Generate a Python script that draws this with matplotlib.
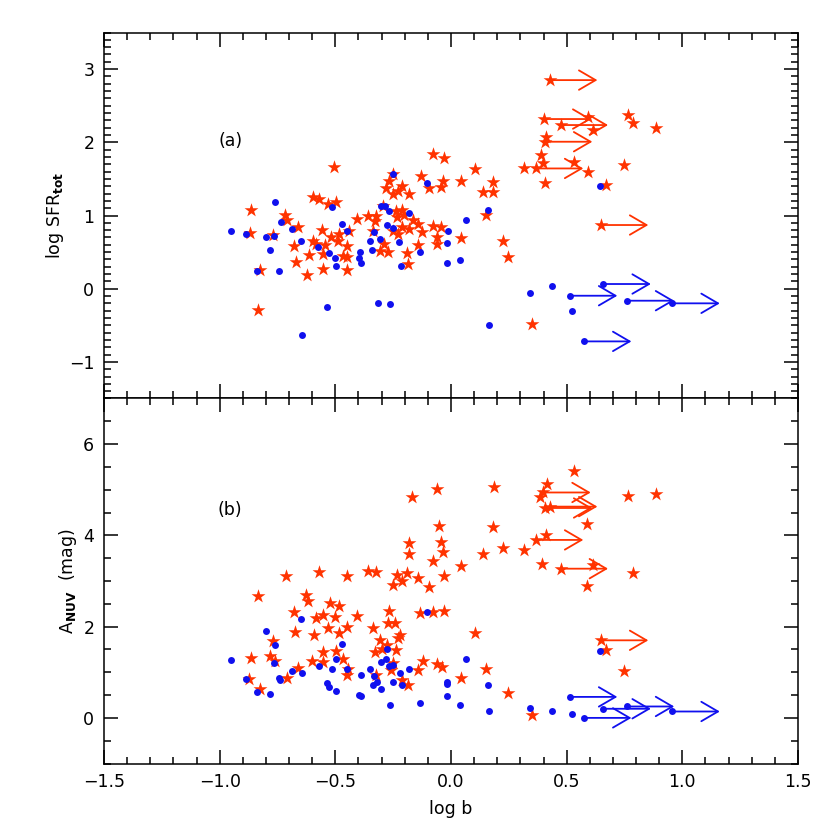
import matplotlib
matplotlib.use("Agg")
import matplotlib.pyplot as plt
from matplotlib.ticker import MultipleLocator, FuncFormatter

# ---------------- data: panel (a) log SFR_tot ----------------
a_star_x = [-0.504, -0.866, -0.869, -0.768, -0.833, -0.826, -0.718, -0.708, -0.660, -0.679,
            -0.671, -0.624, -0.612, -0.595, -0.572, -0.533, -0.497, -0.556, -0.595, -0.584,
            -0.545, -0.555, -0.555, -0.520, -0.483, -0.487, -0.451, -0.466, -0.451, -0.451,
            -0.440, -0.408, -0.357, -0.324, -0.329, -0.336, -0.295, -0.290, -0.307, -0.271,
            -0.252, -0.269, -0.281, -0.252, -0.230, -0.213, -0.180, -0.238, -0.213, -0.235,
            -0.203, -0.163, -0.141, -0.249, -0.228, -0.213, -0.180, -0.127, -0.141, -0.189,
            -0.185, -0.131, -0.094, -0.076, -0.029, -0.045, -0.033, -0.079, -0.045, -0.062,
            -0.059, 0.043, 0.042, 0.104, 0.137, 0.183, 0.183, 0.150, 0.226, 0.248,
            0.594, 0.615, 0.764, 0.788, 0.886, 0.411, 0.388, 0.396, 0.316, 0.532,
            0.591, 0.748, 0.406, 0.670, 0.349]
a_star_y = [1.667, 1.080, 0.765, 0.740, -0.287, 0.255, 1.010, 0.940, 0.847, 0.587,
            0.369, 0.187, 0.460, 1.247, 1.225, 1.157, 1.180, 0.806, 0.656, 0.610,
            0.597, 0.474, 0.269, 0.700, 0.747, 0.646, 0.587, 0.450, 0.437, 0.255,
            0.790, 0.952, 0.997, 0.997, 0.919, 0.790, 1.134, 0.610, 0.519, 0.496,
            1.567, 1.475, 1.376, 1.300, 1.339, 1.407, 1.290, 1.066, 1.075, 0.974,
            1.010, 0.938, 0.883, 0.790, 0.747, 0.837, 0.815, 0.769, 0.597, 0.483,
            0.337, 1.544, 1.376, 1.840, 1.780, 1.393, 1.475, 0.860, 0.837, 0.710,
            0.610, 1.475, 0.690, 1.635, 1.316, 1.452, 1.325, 1.007, 0.656, 0.428,
            2.340, 2.168, 2.373, 2.258, 2.190, 2.067, 1.827, 1.712, 1.643, 1.725,
            1.589, 1.690, 1.444, 1.417, -0.482]
a_star_lim_x = [0.428, 0.402, 0.474, 0.406, 0.367, 0.648]
a_star_lim_y = [2.850, 2.318, 2.236, 2.008, 1.643, 0.870]

a_dot_x = [-0.951, -0.888, -0.800, -0.765, -0.760, -0.736, -0.781, -0.837, -0.745, -0.686,
           -0.650, -0.645, -0.574, -0.537, -0.513, -0.527, -0.501, -0.498, -0.470, -0.450,
           -0.392, -0.398, -0.389, -0.350, -0.340, -0.333, -0.306, -0.317, -0.264, -0.303,
           -0.284, -0.268, -0.278, -0.249, -0.251, -0.224, -0.216, -0.183, -0.135, -0.104,
           -0.014, -0.016, -0.019, 0.038, 0.066, 0.161, 0.163, 0.644, 0.342, 0.438, 0.522]
a_dot_y = [0.788, 0.742, 0.710, 0.724, 1.184, 0.915, 0.533, 0.246, 0.246, 0.815,
           0.651, -0.633, 0.569, -0.246, 1.111, 0.487, 0.414, 0.314, 0.883, 0.788,
           0.505, 0.419, 0.346, 0.651, 0.528, 0.769, 0.678, -0.191, -0.205, 1.129,
           1.129, 1.056, 0.870, 0.824, 1.567, 0.642, 0.310, 1.038, 0.505, 1.439,
           0.790, 0.624, 0.346, 0.396, 0.943, 1.079, -0.501, 1.398, -0.064, 0.041, -0.310]
a_dot_lim_x = [0.514, 0.659, 0.760, 0.957, 0.575]
a_dot_lim_y = [-0.096, 0.064, -0.164, -0.200, -0.720]

# ---------------- data: panel (b) A_NUV ----------------
b_star_x = [-0.169, -0.062, 0.186, -0.050, 0.183, -0.182, -0.182, -0.045, -0.036, -0.076,
            0.137, 0.043, -0.030, -0.095, -0.144, -0.192, -0.235, -0.249, -0.210, -0.324,
            -0.360, -0.451, -0.572, -0.715, -0.834, -0.627, -0.617, -0.679, -0.523, -0.483,
            -0.555, -0.584, -0.501, -0.408, -0.269, -0.134, -0.079, -0.029, -0.675, -0.593,
            -0.533, -0.484, -0.451, -0.336, -0.272, -0.243, -0.221, -0.228, -0.307, -0.771,
            0.104, -0.866, -0.783, -0.762, -0.872, -0.826, -0.708, -0.660, -0.602, -0.555,
            -0.552, -0.497, -0.466, -0.444, -0.451, -0.329, -0.300, -0.278, -0.238, -0.324,
            -0.249, -0.260, -0.213, -0.185, -0.141, -0.122, -0.059, -0.040, 0.042, 0.150,
            0.533, 0.414, 0.385, 0.764, 0.886, 0.589, 0.409, 0.226, 0.316, 0.395,
            0.615, 0.788, 0.589, 0.670, 0.748, 0.248, 0.349]
b_star_y = [4.83, 5.01, 5.05, 4.21, 4.19, 3.83, 3.59, 3.86, 3.64, 3.43,
            3.60, 3.33, 3.12, 2.86, 3.06, 3.17, 3.14, 2.92, 2.99, 3.19,
            3.22, 3.10, 3.19, 3.10, 2.68, 2.70, 2.57, 2.33, 2.52, 2.46,
            2.26, 2.20, 2.21, 2.24, 2.35, 2.30, 2.33, 2.35, 1.88, 1.81,
            1.97, 1.86, 2.00, 1.98, 2.09, 2.08, 1.81, 1.75, 1.71, 1.68,
            1.86, 1.31, 1.35, 1.25, 0.85, 0.63, 0.875, 1.09, 1.24, 1.44,
            1.22, 1.46, 1.28, 1.07, 0.93, 1.44, 1.51, 1.60, 1.48, 0.93,
            1.20, 1.04, 0.84, 0.71, 1.06, 1.25, 1.19, 1.12, 0.875, 1.07,
            5.40, 5.13, 4.85, 4.87, 4.90, 4.25, 4.01, 3.72, 3.67, 3.37,
            3.35, 3.17, 2.88, 1.48, 1.02, 0.55, 0.07]
b_star_lim_x = [0.399, 0.406, 0.428, 0.367, 0.474, 0.648]
b_star_lim_y = [4.94, 4.60, 4.63, 3.90, 3.27, 1.70]

b_dot_x = [-0.951, -0.886, -0.837, -0.781, -0.798, -0.760, -0.765, -0.745, -0.738, -0.686,
           -0.645, -0.650, -0.572, -0.537, -0.526, -0.513, -0.498, -0.497, -0.471, -0.450,
           -0.390, -0.396, -0.389, -0.350, -0.332, -0.319, -0.339, -0.304, -0.303, -0.282,
           -0.278, -0.268, -0.249, -0.249, -0.264, -0.221, -0.213, -0.181, -0.134, -0.102,
           -0.016, -0.016, -0.019, 0.038, 0.066, 0.161, 0.163, 0.644, 0.342, 0.438, 0.522]
b_dot_y = [1.27, 0.85, 0.56, 0.52, 1.90, 1.59, 1.20, 0.88, 0.82, 1.02,
           0.98, 2.17, 1.14, 0.77, 0.68, 1.08, 1.28, 0.60, 1.62, 1.07,
           0.93, 0.50, 0.49, 1.07, 0.91, 0.78, 0.71, 0.63, 1.22, 1.30,
           1.51, 1.13, 1.17, 0.79, 0.29, 0.98, 0.71, 1.07, 0.33, 2.33,
           0.79, 0.74, 0.49, 0.29, 1.30, 0.71, 0.14, 1.46, 0.22, 0.14, 0.09]
b_dot_lim_x = [0.514, 0.659, 0.760, 0.957, 0.575]
b_dot_lim_y = [0.46, 0.20, 0.25, 0.14, 0.00]

x_ticks = [-1.5, -1.0, -0.5, 0.0, 0.5, 1.0, 1.5]
a_yticks = [-1, 0, 1, 2, 3]
b_yticks = [0, 2, 4, 6]

# ---------------- style ----------------
RED = "#ff3300"
BLUE = "#1010ee"
ARROW_LEN = 0.205   # length of lower-limit arrows in log b units
FAM = ["Liberation Sans Narrow", "DejaVu Sans"]
plt.rcParams["font.family"] = FAM
plt.rcParams["mathtext.fontset"] = "custom"
plt.rcParams["mathtext.rm"] = "Liberation Sans Narrow"
plt.rcParams["axes.linewidth"] = 1.1

fig = plt.figure(figsize=(8.3, 8.3), dpi=100)
ax1 = fig.add_axes([0.1253, 0.5199, 0.8361, 0.4409])
ax2 = fig.add_axes([0.1253, 0.0801, 0.8361, 0.4398])


def arrows(ax, xs, ys, color):
    for x, y in zip(xs, ys):
        ax.annotate("", xy=(x + ARROW_LEN, y), xytext=(x, y),
                    arrowprops=dict(arrowstyle="->,head_length=12,head_width=7",
                                    mutation_scale=1, color=color, lw=1.3,
                                    shrinkA=0, shrinkB=0), zorder=2)


def panel(ax, sx, sy, slx, sly, dx, dy, dlx, dly):
    arrows(ax, slx, sly, RED)
    arrows(ax, dlx, dly, BLUE)
    ax.scatter(sx + slx, sy + sly, marker="*", s=110, color=RED, linewidths=0, zorder=3)
    ax.scatter(dx + dlx, dy + dly, marker="o", s=25, color=BLUE, linewidths=0, zorder=4)
    ax.set_xlim(-1.5, 1.5)
    ax.xaxis.set_major_locator(MultipleLocator(0.5))
    ax.xaxis.set_minor_locator(MultipleLocator(0.1))
    ax.tick_params(which="both", direction="in", top=True, right=True, width=1.1)
    ax.tick_params(which="major", length=10, labelsize=12.5, pad=7)
    ax.tick_params(which="minor", length=5)


panel(ax1, a_star_x, a_star_y, a_star_lim_x, a_star_lim_y,
      a_dot_x, a_dot_y, a_dot_lim_x, a_dot_lim_y)
ax1.set_ylim(-1.5, 3.5)
ax1.set_yticks(a_yticks)
ax1.yaxis.set_minor_locator(MultipleLocator(0.1))
ax1.set_xticks(x_ticks)
ax1.tick_params(axis="x", labelbottom=False)
ax1.set_ylabel(r"log SFR$_{\mathbf{tot}}$", fontsize=12.5, labelpad=2)
ax1.text(-0.955, 2.02, "(a)", fontsize=12.5, ha="center", va="center")

panel(ax2, b_star_x, b_star_y, b_star_lim_x, b_star_lim_y,
      b_dot_x, b_dot_y, b_dot_lim_x, b_dot_lim_y)
ax2.set_ylim(-1, 7)
ax2.set_yticks(b_yticks)
ax2.yaxis.set_minor_locator(MultipleLocator(0.5))
ax2.set_xticks(x_ticks)
ax2.xaxis.set_major_formatter(FuncFormatter(lambda v, p: f"{v:.1f}".replace("-", "\u2212")))
ax2.set_ylabel(r"A$_{\mathbf{NUV}}$  (mag)", fontsize=12.5, labelpad=3)
ax2.set_xlabel("log b", fontsize=12.5, labelpad=6)
ax2.text(-0.955, 4.56, "(b)", fontsize=12.5, ha="center", va="center")

fig.savefig("out.png", dpi=100)
